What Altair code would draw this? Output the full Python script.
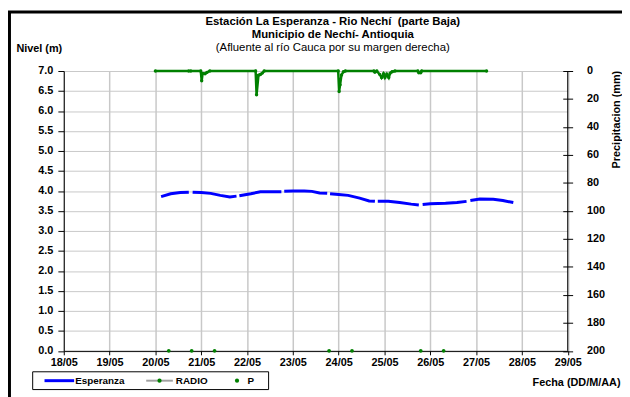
import altair as alt
import pandas as pd

FONT = "Liberation Sans"

# ---- data ----
level_times = [
    "2011-05-20T03:00", "2011-05-20T08:00", "2011-05-20T13:00", "2011-05-20T17:30", None,
    "2011-05-20T19:30", "2011-05-21T00:00", "2011-05-21T05:00", "2011-05-21T10:00",
    "2011-05-21T15:00", "2011-05-21T18:30", None,
    "2011-05-21T20:00", "2011-05-22T02:00", "2011-05-22T07:00", "2011-05-22T12:00",
    "2011-05-22T18:00", None,
    "2011-05-22T19:30", "2011-05-23T00:00", "2011-05-23T06:00", "2011-05-23T10:00",
    "2011-05-23T14:00", "2011-05-23T18:00", None,
    "2011-05-23T19:30", "2011-05-24T00:00", "2011-05-24T05:00", "2011-05-24T11:00",
    "2011-05-24T16:00", "2011-05-24T19:00", None,
    "2011-05-24T20:30", "2011-05-25T02:00", "2011-05-25T08:00", "2011-05-25T14:00",
    "2011-05-25T18:00", None,
    "2011-05-25T20:00", "2011-05-26T00:00", "2011-05-26T08:00", "2011-05-26T14:00",
    "2011-05-26T19:00", None,
    "2011-05-26T21:00", "2011-05-27T02:00", "2011-05-27T09:00", "2011-05-27T14:00",
    "2011-05-27T19:30",
]
level_m = [
    3.86, 3.93, 3.96, 3.97, None,
    3.97, 3.96, 3.94, 3.89, 3.85, 3.87, None,
    3.88, 3.93, 3.98, 3.98, 3.98, None,
    3.99, 4.00, 4.00, 3.99, 3.95, 3.94, None,
    3.93, 3.91, 3.89, 3.82, 3.75, 3.74, None,
    3.74, 3.74, 3.71, 3.67, 3.65, None,
    3.66, 3.68, 3.69, 3.71, 3.74, None,
    3.76, 3.80, 3.79, 3.76, 3.71,
]

radio_times = [
    "2011-05-20T00:00", "2011-05-20T17:30", None,
    "2011-05-20T18:30", "2011-05-20T23:45", "2011-05-21T00:15", "2011-05-21T00:45",
    "2011-05-21T02:00", "2011-05-21T03:00", "2011-05-21T04:30",
    "2011-05-22T04:30", "2011-05-22T05:00", "2011-05-22T06:00", "2011-05-22T07:00",
    "2011-05-22T08:00", "2011-05-22T09:00",
    "2011-05-23T23:45", "2011-05-24T00:15", "2011-05-24T00:45", "2011-05-24T01:30",
    "2011-05-24T02:30", "2011-05-24T03:30",
    "2011-05-24T18:30", "2011-05-24T19:00", "2011-05-24T20:00", "2011-05-24T21:30",
    "2011-05-24T22:30", "2011-05-24T23:30", "2011-05-25T00:15", "2011-05-25T01:15",
    "2011-05-25T02:15", "2011-05-25T03:00", "2011-05-25T04:00", "2011-05-25T05:30",
    "2011-05-25T17:30", "2011-05-25T18:00", "2011-05-25T19:00", "2011-05-25T19:30",
    "2011-05-27T05:30",
]
radio_mm = [
    0, 0, None,
    0, 0, 6.9, 1.7, 2.0, 1.0, 0,
    0, 17.0, 3.0, 2.5, 1.5, 0,
    0, 14.6, 9.9, 2.8, 0.5, 0,
    0, 0.8, 0, 2.4, 4.7, 2.0, 4.7, 2.2, 4.7, 1.5, 0.5, 0,
    0, 1.2, 1.2, 0,
    0,
]

p_times = ["2011-05-20T07:00", "2011-05-20T19:00", "2011-05-21T07:00", "2011-05-23T19:00",
           "2011-05-24T07:00", "2011-05-25T19:00", "2011-05-26T07:00"]
p_values = [0, 0, 0, 0, 0, 0, 0]

day_ticks = list(range(18, 30))
level_ticks = [i * 0.5 for i in range(15)]
precip_ticks = list(range(0, 201, 20))

title_line1 = "Estación La Esperanza - Rio Nechí\u00a0\u00a0(parte Baja)"
title_line2 = "Municipio de Nechí- Antioquia"
title_line3 = "(Afluente al río Cauca por su margen derecha)"


def segmented(times, values):
    rows, seg = [], 0
    for t, v in zip(times, values):
        if t is None:
            seg += 1
            continue
        rows.append({"t": t, "v": v, "seg": seg})
    return pd.DataFrame(rows)


level_df = segmented(level_times, level_m)
radio_df = segmented(radio_times, radio_mm)
p_df = pd.DataFrame({"t": p_times, "v": p_values})

W, H = 510.5, 283.5

x_axis = alt.Axis(
    values=[alt.DateTime(year=2011, month=5, date=d) for d in day_ticks],
    format="%d/%m", labelFont=FONT, labelFontSize=11, labelFontWeight="bold",
    labelColor="black", labelPadding=2, labelFlush=False, labelOverlap=False,
    tickSize=4, tickColor="black", domainColor="black",
    gridColor="#c8c8c8", gridWidth=1.5,
    title="Fecha (DD/M/AA)", titleFont=FONT, titleFontSize=11, titleFontWeight="bold",
    titleColor="black", titleAlign="right", titleBaseline="middle",
    titleX=563.5, titleY=32, titleAnchor="start",
)
x_scale = alt.Scale(domain=[alt.DateTime(year=2011, month=5, date=18),
                            alt.DateTime(year=2011, month=5, date=29)])
x_enc = alt.X("t:T", scale=x_scale, axis=x_axis)

left_axis = alt.Axis(
    values=level_ticks, format=".1f", labelFont=FONT, labelFontSize=11,
    labelFontWeight="bold", labelColor="black", labelPadding=5,
    tickSize=6, tickColor="black", domainColor="black",
    gridColor="#c8c8c8", gridWidth=1,
    title="Nivel (m)", titleFont=FONT, titleFontSize=11, titleFontWeight="bold",
    titleColor="black", titleAngle=0, titleAlign="left", titleBaseline="middle",
    titleX=-48.5, titleY=-23, titleAnchor="start",
)

right_axis = alt.Axis(
    orient="right", values=precip_ticks, offset=-5, tickSize=10, tickColor="black",
    domain=False, grid=False, labelFont=FONT, labelFontSize=11, labelFontWeight="bold",
    labelColor="black", labelPadding=14,
    title="Precipitacion (mm)", titleFont=FONT, titleFontSize=11, titleFontWeight="bold",
    titleColor="black", titleAngle=-90, titleAlign="center", titleBaseline="middle",
    titleX=54, titleY=48.7, titleAnchor="start",
)

level = alt.Chart(level_df).mark_line(color="#0000ff", strokeWidth=3).encode(
    x=x_enc,
    y=alt.Y("v:Q", scale=alt.Scale(domain=[0, 7], nice=False), axis=left_axis),
    detail="seg:N",
)

radio = alt.Chart(radio_df).mark_line(
    color="#008000", strokeWidth=2.5,
    point=alt.OverlayMarkDef(filled=True, color="#008000", size=12),
).encode(
    x=x_enc,
    y=alt.Y("v:Q", scale=alt.Scale(domain=[0, 200], reverse=True, nice=False), axis=right_axis),
    detail="seg:N",
)

pdots = alt.Chart(p_df).mark_point(filled=True, color="#008000", size=14, opacity=1).encode(
    x=x_enc,
    y=alt.Y("v:Q", scale=alt.Scale(domain=[0, 7], nice=False), axis=None),
)

one = alt.Data(values=[{"a": 1}])

right_domain = alt.Chart(one).mark_rule(color="black", strokeWidth=1).encode(
    x=alt.value(W), y=alt.value(0), y2=alt.value(H))

leg_box = alt.Chart(one).mark_rect(fill="white", stroke="black", strokeWidth=1).encode(
    x=alt.value(-31.5), x2=alt.value(207.5), y=alt.value(304.7), y2=alt.value(322.7))
leg_blue = alt.Chart(one).mark_rule(color="#0000ff", strokeWidth=3).encode(
    x=alt.value(-19.5), x2=alt.value(10.5), y=alt.value(313.7))
leg_gray = alt.Chart(one).mark_rule(color="#a0a0a0", strokeWidth=2).encode(
    x=alt.value(83.5), x2=alt.value(110.5), y=alt.value(313.7))
leg_dot1 = alt.Chart(one).mark_point(filled=True, color="#008000", size=18, opacity=1).encode(
    x=alt.value(97), y=alt.value(313.7))
leg_dot2 = alt.Chart(one).mark_point(filled=True, color="#008000", size=18, opacity=1).encode(
    x=alt.value(175.5), y=alt.value(313.7))


def free_text(label, x, y, bold=True, size=10, align="left"):
    return alt.Chart(one).mark_text(
        align=align, baseline="middle", font=FONT, fontSize=size,
        fontWeight="bold" if bold else "normal", color="black", text=label,
    ).encode(x=alt.value(x), y=alt.value(y))


frame = alt.Chart(one).mark_rect(fillOpacity=0, stroke="black", strokeWidth=3).encode(
    x=alt.value(-55), x2=alt.value(700), y=alt.value(-59.8), y2=alt.value(500))

chart = alt.layer(
    level, radio, pdots, right_domain,
    leg_box, leg_blue, leg_gray, leg_dot1, leg_dot2,
    free_text("Esperanza", 11.5, 313.7), free_text("RADIO", 113.5, 313.7),
    free_text("P", 186, 313.7),
    free_text(title_line1, 272.5, -49.3, size=11.5, align="center"),
    free_text(title_line2, 272.5, -36.3, size=11.5, align="center"),
    free_text(title_line3, 272.5, -23.3, bold=False, size=11.5, align="center"),
    frame,
).resolve_scale(y="independent").properties(
    width=W, height=H,
    autosize=alt.AutoSizeParams(type="none"),
    padding={"left": 56.5, "top": 61.3, "right": 55, "bottom": 44.2},
).configure_view(stroke=None).configure(background="white")

chart.save("out.html", embed_options={"renderer": "svg", "actions": False})
